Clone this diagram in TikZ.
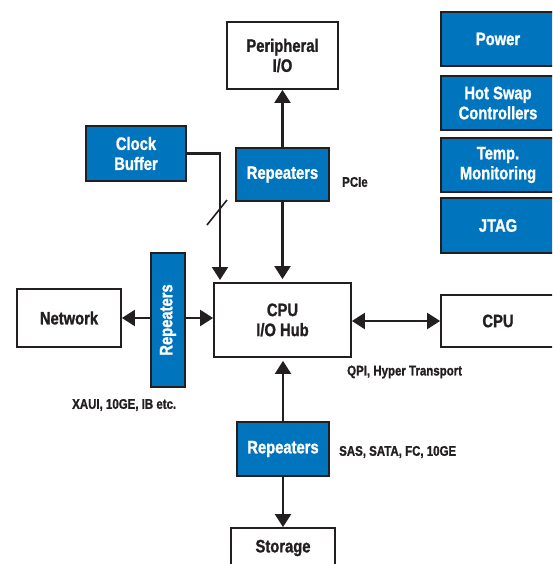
\documentclass[tikz,border=0pt]{standalone}
\usepackage{fontspec}
\setmainfont{Liberation Sans}[FakeStretch=0.82,BoldFeatures={FakeBold=1.2}]
\usetikzlibrary{arrows.meta}
\definecolor{tiblue}{RGB}{0,117,190}
\definecolor{edgegray}{RGB}{35,31,32}

\begin{document}
\begin{tikzpicture}[x=1pt,y=-1pt,
  box/.style={draw=edgegray,line width=1.8pt,align=center,inner sep=0pt,
    font=\bfseries\fontsize{18}{20}\selectfont},
  whitebox/.style={box,fill=white,text=edgegray},
  bluebox/.style={box,fill=tiblue,text=white},
  sidebox/.style={bluebox,minimum width=114pt,minimum height=54pt},
  lbl/.style={anchor=west,inner sep=0pt,text=edgegray,
    font=\bfseries\fontsize{14}{16}\selectfont},
  wire/.style={draw=edgegray,line width=2.2pt},
  link/.style={wire,-{Triangle[length=13pt,width=16pt]}},
  biglink/.style={wire,{Triangle[length=13pt,width=16pt]}-{Triangle[length=13pt,width=16pt]}}]
\useasboundingbox (0,0) rectangle (552,564);
\clip (0,0) rectangle (552,564);

% boxes
\node[whitebox,minimum width=111pt,minimum height=67pt] (periph) at (282.5,55.5) {Peripheral\\I/O};
\node[bluebox,minimum width=100pt,minimum height=55pt] (clock) at (136,153.5) {Clock\\Buffer};
\node[bluebox,minimum width=93pt,minimum height=53pt] (reptop) at (282.5,174.5) {Repeaters};
\node[whitebox,minimum width=104pt,minimum height=58pt] (network) at (69,318) {Network};
\node[bluebox,minimum width=34pt,minimum height=134pt] (repnet) at (168,320) {\rotatebox{90}{Repeaters}};
\node[whitebox,minimum width=137pt,minimum height=74pt] (hub) at (282.5,320) {CPU\\I/O Hub};
\node[whitebox,minimum width=114pt,minimum height=52pt] (cpu) at (498,321) {CPU};
\node[bluebox,minimum width=92pt,minimum height=54pt] (repbot) at (283,449) {Repeaters};
\node[whitebox,minimum width=104pt,minimum height=40pt] (storage) at (283,548) {Storage};

% side blocks
\node[sidebox] (power) at (498,39) {Power};
\node[sidebox] (hotswap) at (498,103) {Hot Swap\\Controllers};
\node[sidebox] (temp) at (498,165) {Temp.\\Monitoring};
\node[sidebox,minimum height=55pt] (jtag) at (498,225.5) {JTAG};

% labels
\node[lbl] (pcie) at (342,182) {PCIe};
\node[lbl] (qpi) at (347,372) {QPI, Hyper Transport};
\node[lbl] (xaui) at (72,405) {XAUI, 10GE, IB etc.};
\node[lbl] (sas) at (339,452) {SAS, SATA, FC, 10GE};

% links
\coordinate (clkin) at (220,283);
\draw[link] (reptop.north) -- (periph.south);
\draw[link,shorten >=3pt] (reptop.south) -- (hub.north);
\draw[link,shorten >=3pt] (clock.east) -| (clkin);
\draw[wire,line width=1.6pt] (207,225) -- (227,200);
\draw[link] (repnet.west |- network.east) -- (network.east);
\draw[link] (repnet.east |- network.east) -- (hub.west |- network.east);
\draw[biglink] (hub.east |- cpu.west) -- (cpu.west);
\draw[link,shorten >=3pt] (repbot.north) -- (repbot.north |- hub.south);
\draw[link] (repbot.south) -- (storage.north);
\end{tikzpicture}
\end{document}
